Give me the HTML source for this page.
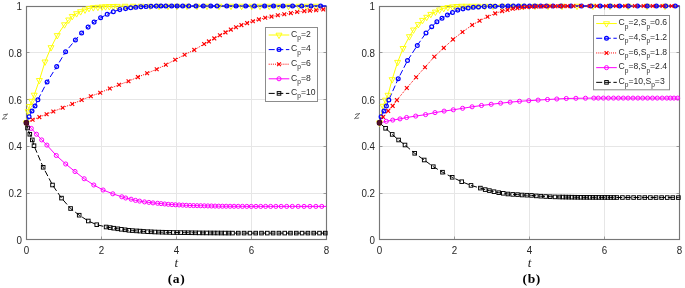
<!DOCTYPE html>
<html><head><meta charset="utf-8"><style>
html,body{margin:0;padding:0;background:#fff;}
body{width:685px;height:288px;overflow:hidden;}
svg{display:block;will-change:transform;}
.tk{font-family:"Liberation Sans",sans-serif;font-size:9.8px;fill:#262626;}
.lg{font-family:"Liberation Sans",sans-serif;font-size:8.6px;fill:#2a2a2a;}
.sub{font-size:6.6px;}
.ax{font-family:"Liberation Serif",serif;font-style:italic;font-size:13px;fill:#262626;}
.pl{font-family:"Liberation Serif",serif;font-weight:bold;font-size:13.5px;letter-spacing:0.7px;fill:#000;}
</style></head><body>
<svg width="685" height="288" viewBox="0 0 685 288">
<rect width="685" height="288" fill="#fff"/>
<line x1="101.5" y1="6.5" x2="101.5" y2="239.5" stroke="#e6e6e6" stroke-width="1"/>
<line x1="176.5" y1="6.5" x2="176.5" y2="239.5" stroke="#e6e6e6" stroke-width="1"/>
<line x1="251.5" y1="6.5" x2="251.5" y2="239.5" stroke="#e6e6e6" stroke-width="1"/>
<line x1="26.5" y1="193.5" x2="326.5" y2="193.5" stroke="#e6e6e6" stroke-width="1"/>
<line x1="26.5" y1="146.5" x2="326.5" y2="146.5" stroke="#e6e6e6" stroke-width="1"/>
<line x1="26.5" y1="99.5" x2="326.5" y2="99.5" stroke="#e6e6e6" stroke-width="1"/>
<line x1="26.5" y1="52.5" x2="326.5" y2="52.5" stroke="#e6e6e6" stroke-width="1"/>
<line x1="26.5" y1="239.5" x2="26.5" y2="236.5" stroke="#858585" stroke-width="0.8"/>
<line x1="26.5" y1="6.5" x2="26.5" y2="9.5" stroke="#858585" stroke-width="0.8"/>
<line x1="101.5" y1="239.5" x2="101.5" y2="236.5" stroke="#858585" stroke-width="0.8"/>
<line x1="101.5" y1="6.5" x2="101.5" y2="9.5" stroke="#858585" stroke-width="0.8"/>
<line x1="176.5" y1="239.5" x2="176.5" y2="236.5" stroke="#858585" stroke-width="0.8"/>
<line x1="176.5" y1="6.5" x2="176.5" y2="9.5" stroke="#858585" stroke-width="0.8"/>
<line x1="251.5" y1="239.5" x2="251.5" y2="236.5" stroke="#858585" stroke-width="0.8"/>
<line x1="251.5" y1="6.5" x2="251.5" y2="9.5" stroke="#858585" stroke-width="0.8"/>
<line x1="326.5" y1="239.5" x2="326.5" y2="236.5" stroke="#858585" stroke-width="0.8"/>
<line x1="326.5" y1="6.5" x2="326.5" y2="9.5" stroke="#858585" stroke-width="0.8"/>
<line x1="26.5" y1="239.5" x2="29.5" y2="239.5" stroke="#858585" stroke-width="0.8"/>
<line x1="326.5" y1="239.5" x2="323.5" y2="239.5" stroke="#858585" stroke-width="0.8"/>
<line x1="26.5" y1="193.5" x2="29.5" y2="193.5" stroke="#858585" stroke-width="0.8"/>
<line x1="326.5" y1="193.5" x2="323.5" y2="193.5" stroke="#858585" stroke-width="0.8"/>
<line x1="26.5" y1="146.5" x2="29.5" y2="146.5" stroke="#858585" stroke-width="0.8"/>
<line x1="326.5" y1="146.5" x2="323.5" y2="146.5" stroke="#858585" stroke-width="0.8"/>
<line x1="26.5" y1="99.5" x2="29.5" y2="99.5" stroke="#858585" stroke-width="0.8"/>
<line x1="326.5" y1="99.5" x2="323.5" y2="99.5" stroke="#858585" stroke-width="0.8"/>
<line x1="26.5" y1="52.5" x2="29.5" y2="52.5" stroke="#858585" stroke-width="0.8"/>
<line x1="326.5" y1="52.5" x2="323.5" y2="52.5" stroke="#858585" stroke-width="0.8"/>
<line x1="26.5" y1="6.5" x2="29.5" y2="6.5" stroke="#858585" stroke-width="0.8"/>
<line x1="326.5" y1="6.5" x2="323.5" y2="6.5" stroke="#858585" stroke-width="0.8"/>
<line x1="454.5" y1="6.5" x2="454.5" y2="239.5" stroke="#e6e6e6" stroke-width="1"/>
<line x1="529.5" y1="6.5" x2="529.5" y2="239.5" stroke="#e6e6e6" stroke-width="1"/>
<line x1="604.5" y1="6.5" x2="604.5" y2="239.5" stroke="#e6e6e6" stroke-width="1"/>
<line x1="379.5" y1="193.5" x2="679.5" y2="193.5" stroke="#e6e6e6" stroke-width="1"/>
<line x1="379.5" y1="146.5" x2="679.5" y2="146.5" stroke="#e6e6e6" stroke-width="1"/>
<line x1="379.5" y1="99.5" x2="679.5" y2="99.5" stroke="#e6e6e6" stroke-width="1"/>
<line x1="379.5" y1="52.5" x2="679.5" y2="52.5" stroke="#e6e6e6" stroke-width="1"/>
<line x1="379.5" y1="239.5" x2="379.5" y2="236.5" stroke="#858585" stroke-width="0.8"/>
<line x1="379.5" y1="6.5" x2="379.5" y2="9.5" stroke="#858585" stroke-width="0.8"/>
<line x1="454.5" y1="239.5" x2="454.5" y2="236.5" stroke="#858585" stroke-width="0.8"/>
<line x1="454.5" y1="6.5" x2="454.5" y2="9.5" stroke="#858585" stroke-width="0.8"/>
<line x1="529.5" y1="239.5" x2="529.5" y2="236.5" stroke="#858585" stroke-width="0.8"/>
<line x1="529.5" y1="6.5" x2="529.5" y2="9.5" stroke="#858585" stroke-width="0.8"/>
<line x1="604.5" y1="239.5" x2="604.5" y2="236.5" stroke="#858585" stroke-width="0.8"/>
<line x1="604.5" y1="6.5" x2="604.5" y2="9.5" stroke="#858585" stroke-width="0.8"/>
<line x1="679.5" y1="239.5" x2="679.5" y2="236.5" stroke="#858585" stroke-width="0.8"/>
<line x1="679.5" y1="6.5" x2="679.5" y2="9.5" stroke="#858585" stroke-width="0.8"/>
<line x1="379.5" y1="239.5" x2="382.5" y2="239.5" stroke="#858585" stroke-width="0.8"/>
<line x1="679.5" y1="239.5" x2="676.5" y2="239.5" stroke="#858585" stroke-width="0.8"/>
<line x1="379.5" y1="193.5" x2="382.5" y2="193.5" stroke="#858585" stroke-width="0.8"/>
<line x1="679.5" y1="193.5" x2="676.5" y2="193.5" stroke="#858585" stroke-width="0.8"/>
<line x1="379.5" y1="146.5" x2="382.5" y2="146.5" stroke="#858585" stroke-width="0.8"/>
<line x1="679.5" y1="146.5" x2="676.5" y2="146.5" stroke="#858585" stroke-width="0.8"/>
<line x1="379.5" y1="99.5" x2="382.5" y2="99.5" stroke="#858585" stroke-width="0.8"/>
<line x1="679.5" y1="99.5" x2="676.5" y2="99.5" stroke="#858585" stroke-width="0.8"/>
<line x1="379.5" y1="52.5" x2="382.5" y2="52.5" stroke="#858585" stroke-width="0.8"/>
<line x1="679.5" y1="52.5" x2="676.5" y2="52.5" stroke="#858585" stroke-width="0.8"/>
<line x1="379.5" y1="6.5" x2="382.5" y2="6.5" stroke="#858585" stroke-width="0.8"/>
<line x1="679.5" y1="6.5" x2="676.5" y2="6.5" stroke="#858585" stroke-width="0.8"/>
<rect x="26.5" y="6.5" width="300.0" height="233.0" fill="none" stroke="#777777" stroke-width="1.15"/>
<rect x="379.5" y="6.5" width="300.0" height="233.0" fill="none" stroke="#777777" stroke-width="1.15"/>
<path d="M26.40,122.80 L28.10,111.50 L29.60,106.30 L31.90,101.10 L34.20,95.00 L39.35,80.30 L45.00,61.80 L51.00,47.50 L57.25,35.40 L64.50,24.60 L68.70,19.80 L72.25,16.25 L76.60,13.50 L80.60,11.50 L85.00,9.80 L89.00,8.30 L93.30,7.50 L97.90,7.10 L102.00,6.80 L105.50,6.60 L109.30,6.45 L113.20,6.30 L117.20,6.20 L125.00,6.05 L133.00,6.05 L141.00,6.05 L150.00,6.05 L159.00,6.05 L168.00,6.05 L177.00,6.05 L187.00,6.05 L197.00,6.05 L207.00,6.05 L219.00,6.05 L231.00,6.05 L241.60,6.05 L251.80,6.05 L260.00,6.05 L269.20,6.05 L278.30,6.05 L288.50,6.05 L298.90,6.05 L306.80,6.05 L316.00,6.05 L326.40,6.05" fill="none" stroke="#ffff00" stroke-width="1"/>
<path d="M26.40,122.80 L29.10,116.80 L32.00,110.90 L35.00,105.90 L37.90,99.80 L47.10,81.90 L56.70,66.60 L65.60,51.70 L75.40,40.00 L81.60,32.90 L88.10,27.10 L94.10,22.10 L100.60,17.80 L107.20,14.30 L113.30,11.70 L119.80,9.60 L125.60,8.60 L130.70,7.80 L135.80,7.20 L140.90,6.70 L146.00,6.40 L151.00,6.20 L156.30,6.10 L161.00,6.05 L165.80,6.00 L171.70,6.00 L177.10,6.00 L182.70,6.00 L188.80,6.00 L196.00,6.00 L203.30,6.00 L210.80,6.00 L217.00,6.00 L226.75,6.00 L236.00,6.00 L245.70,6.00 L254.50,6.00 L264.60,6.00 L273.50,6.00 L283.00,6.00 L292.60,6.00 L301.70,6.00 L311.00,6.00 L320.60,6.00 L326.40,6.00" fill="none" stroke="#0000ff" stroke-width="1" stroke-dasharray="6 2.6"/>
<path d="M151.00,6.20 L156.30,6.10 L161.00,6.05 L165.80,6.00 L171.70,6.00 L177.10,6.00 L182.70,6.00 L188.80,6.00 L196.00,6.00 L203.30,6.00 L210.80,6.00 L217.00,6.00 L226.75,6.00 L236.00,6.00 L245.70,6.00 L254.50,6.00 L264.60,6.00 L273.50,6.00 L283.00,6.00 L292.60,6.00 L301.70,6.00 L311.00,6.00 L320.60,6.00 L326.40,6.00" fill="none" stroke="#0000ff" stroke-width="1"/>
<path d="M26.40,122.80 L32.60,119.80 L39.35,117.10 L46.60,114.20 L53.30,111.50 L62.70,107.70 L72.30,104.00 L81.70,100.00 L90.80,96.25 L100.20,92.70 L109.80,88.50 L119.00,84.80 L128.50,81.25 L137.90,77.10 L147.10,73.30 L156.70,69.20 L165.80,64.80 L175.20,59.70 L184.60,54.70 L194.30,49.90 L204.10,44.00 L208.90,41.40 L214.30,38.40 L219.90,35.30 L225.50,32.40 L230.80,29.60 L236.00,27.20 L241.40,25.10 L247.10,23.10 L252.90,21.20 L258.90,19.40 L265.20,17.80 L271.50,16.60 L277.80,15.30 L284.30,14.20 L290.80,13.10 L297.20,12.00 L304.30,11.10 L310.00,10.60 L316.20,10.20 L323.30,9.40 L326.40,9.10" fill="none" stroke="#ff0000" stroke-width="1" stroke-dasharray="1 1.1"/>
<path d="M26.40,122.80 L31.30,128.40 L36.50,134.25 L41.70,139.90 L46.90,145.10 L56.30,155.50 L65.70,164.00 L75.00,171.50 L84.20,178.75 L93.80,185.00 L103.10,190.00 L112.80,193.80 L121.80,196.80 L125.70,198.00 L131.10,199.20 L135.50,200.40 L139.60,201.10 L144.50,201.90 L148.90,202.40 L153.00,202.90 L157.60,203.30 L161.10,203.64 L164.70,203.99 L168.30,204.34 L171.90,204.59 L175.50,204.78 L179.10,204.95 L182.70,205.13 L186.30,205.31 L189.90,205.50 L193.50,205.58 L197.10,205.67 L200.70,205.75 L204.30,205.83 L207.90,205.92 L211.50,206.00 L215.10,206.09 L218.70,206.17 L222.38,206.22 L226.16,206.24 L230.06,206.27 L234.07,206.29 L238.20,206.32 L242.44,206.35 L246.81,206.38 L251.31,206.40 L255.94,206.40 L260.70,206.40 L265.60,206.40 L270.64,206.40 L275.84,206.40 L281.18,206.40 L286.68,206.40 L292.33,206.40 L298.16,206.40 L304.06,206.40 L309.96,206.40 L315.86,206.40 L321.76,206.40 L326.40,206.40" fill="none" stroke="#ff00ff" stroke-width="1"/>
<path d="M26.40,122.80 L27.50,128.00 L29.80,134.25 L32.30,139.90 L34.00,145.70 L43.20,167.30 L52.50,185.00 L61.50,198.10 L70.60,208.50 L79.20,215.20 L88.30,221.00 L96.75,224.70 L106.10,227.00 L110.20,227.60 L113.70,228.20 L117.80,228.80 L121.30,229.30 L125.10,229.80 L128.90,230.30 L132.40,230.60 L136.50,230.90 L140.00,231.10 L143.50,231.40 L147.60,231.70 L151.10,231.80 L154.80,232.00 L158.70,232.10 L162.20,232.20 L166.00,232.30 L169.80,232.40 L173.30,232.50 L177.00,232.56 L180.70,232.61 L184.40,232.67 L188.10,232.72 L191.80,232.78 L195.50,232.83 L199.20,232.89 L202.90,232.92 L206.60,232.94 L210.30,232.96 L214.00,232.98 L217.70,233.00 L221.40,233.03 L225.10,233.05 L228.80,233.07 L232.50,233.09 L238.30,233.10 L244.10,233.10 L249.90,233.10 L255.70,233.10 L261.50,233.10 L267.30,233.10 L273.10,233.10 L278.90,233.10 L284.70,233.10 L290.50,233.10 L296.30,233.10 L302.10,233.10 L307.90,233.10 L313.70,233.10 L319.50,233.10 L325.30,233.10 L326.40,233.10" fill="none" stroke="#000000" stroke-width="1" stroke-dasharray="6 2.6"/>
<path d="M379.60,122.80 L383.10,106.10 L385.50,100.00 L388.00,95.10 L392.10,79.50 L397.60,62.20 L403.10,48.30 L409.40,36.50 L413.50,29.80 L418.30,24.40 L422.50,20.20 L426.70,17.10 L430.80,14.20 L435.40,11.90 L439.60,9.80 L443.75,8.30 L447.90,7.30 L452.50,6.70 L456.90,6.30 L461.50,6.05 L466.50,6.05 L472.00,6.05 L478.00,6.05 L485.00,6.05 L493.00,6.05 L502.00,6.05 L512.00,6.05 L523.00,6.05 L535.00,6.05 L548.00,6.05 L562.00,6.05 L577.00,6.05 L593.00,6.05 L610.00,6.05 L628.00,6.05 L647.00,6.05 L665.00,6.05 L679.60,6.05" fill="none" stroke="#ffff00" stroke-width="1"/>
<path d="M379.60,122.80 L381.10,116.80 L384.00,110.90 L386.40,105.90 L388.80,99.90 L398.20,78.80 L407.50,60.60 L417.30,45.40 L426.00,32.90 L431.70,26.70 L436.90,21.70 L442.00,18.20 L447.40,15.00 L452.50,12.50 L457.80,10.10 L463.00,8.85 L468.20,7.90 L473.30,7.30 L478.50,6.90 L484.30,6.60 L490.20,6.30 L495.20,6.20 L502.20,6.10 L508.00,6.05 L513.30,6.00 L518.50,6.00 L524.20,6.00 L529.60,6.00 L534.90,6.00 L540.70,6.00 L546.50,6.00 L553.00,6.00 L561.10,6.00 L571.00,6.00 L581.50,6.00 L590.90,6.00 L600.20,6.00 L610.20,6.00 L619.60,6.00 L628.30,6.00 L637.50,6.00 L647.20,6.00 L656.40,6.00 L665.60,6.00 L675.30,6.00 L679.60,6.00" fill="none" stroke="#0000ff" stroke-width="1" stroke-dasharray="6 2.6"/>
<path d="M490.20,6.30 L495.20,6.20 L502.20,6.10 L508.00,6.05 L513.30,6.00 L518.50,6.00 L524.20,6.00 L529.60,6.00 L534.90,6.00 L540.70,6.00 L546.50,6.00 L553.00,6.00 L561.10,6.00 L571.00,6.00 L581.50,6.00 L590.90,6.00 L600.20,6.00 L610.20,6.00 L619.60,6.00 L628.30,6.00 L637.50,6.00 L647.20,6.00 L656.40,6.00 L665.60,6.00 L675.30,6.00 L679.60,6.00" fill="none" stroke="#0000ff" stroke-width="1"/>
<path d="M379.60,122.80 L383.20,117.00 L388.20,110.90 L392.70,105.90 L396.90,100.10 L406.80,88.00 L416.10,77.20 L425.00,67.20 L434.30,56.80 L443.75,47.90 L453.00,39.40 L462.50,32.00 L472.20,25.00 L479.60,20.80 L487.50,16.70 L495.20,13.40 L502.20,11.10 L507.50,9.90 L512.70,8.80 L517.40,8.10 L522.10,7.40 L526.70,7.00 L531.40,6.70 L536.10,6.50 L540.70,6.40 L545.40,6.30 L550.10,6.25 L555.00,6.20 L559.50,6.15 L563.50,6.10 L567.50,6.10 L573.40,6.05 L581.00,6.00 L589.70,6.00 L596.70,6.00 L606.10,6.00 L616.00,6.00 L625.20,6.00 L634.90,6.00 L643.60,6.00 L652.80,6.00 L662.50,6.00 L671.70,6.00 L679.60,6.00" fill="none" stroke="#ff0000" stroke-width="1" stroke-dasharray="1 1.1"/>
<path d="M379.60,122.80 L386.30,121.30 L392.70,120.10 L400.00,118.90 L406.60,117.50 L415.70,116.10 L425.60,114.60 L435.00,112.60 L444.10,111.10 L453.30,109.80 L462.60,108.30 L472.10,106.80 L481.50,105.50 L491.20,104.30 L500.60,103.20 L510.10,102.20 L519.50,101.30 L528.80,100.70 L538.10,100.10 L547.50,99.50 L556.80,99.00 L566.30,98.50 L575.90,98.30 L585.50,98.20 L593.80,98.10 L598.30,98.10 L603.40,98.10 L608.40,98.10 L613.50,98.10 L618.40,98.10 L623.30,98.10 L628.10,98.10 L633.00,98.10 L637.90,98.10 L642.70,98.10 L647.60,98.10 L652.50,98.10 L657.30,98.10 L662.20,98.10 L666.80,98.10 L670.40,98.10 L674.00,98.10 L677.70,98.10 L679.60,98.10" fill="none" stroke="#ff00ff" stroke-width="1"/>
<path d="M379.60,122.80 L385.60,128.30 L392.20,134.40 L398.60,140.00 L405.00,145.00 L414.70,153.30 L424.20,160.00 L433.30,166.70 L442.50,172.20 L452.20,177.30 L461.70,181.70 L471.00,185.40 L480.40,188.10 L485.20,189.60 L489.40,190.60 L494.00,191.70 L498.75,192.70 L503.30,193.30 L507.90,194.00 L512.70,194.40 L517.50,194.60 L522.10,195.00 L526.90,195.20 L531.50,195.40 L536.25,195.90 L540.80,196.20 L545.60,196.50 L550.20,196.70 L555.00,196.90 L559.60,197.00 L562.80,197.05 L565.80,197.09 L568.80,197.14 L571.80,197.18 L574.80,197.22 L577.80,197.27 L580.80,197.30 L583.80,197.32 L586.80,197.34 L589.80,197.35 L592.80,197.37 L595.80,197.39 L598.80,197.40 L601.80,197.42 L604.80,197.44 L607.80,197.45 L610.80,197.47 L613.80,197.49 L616.80,197.50 L622.40,197.51 L628.00,197.52 L633.60,197.53 L639.20,197.54 L644.80,197.55 L650.40,197.55 L656.00,197.56 L661.60,197.57 L667.20,197.58 L672.80,197.59 L678.40,197.60 L679.60,197.60" fill="none" stroke="#000000" stroke-width="1" stroke-dasharray="6 2.6"/>
<polygon points="23.40,121.00 29.40,121.00 26.40,126.40" fill="none" stroke="#ffff00" stroke-width="0.9"/>
<polygon points="25.10,109.70 31.10,109.70 28.10,115.10" fill="none" stroke="#ffff00" stroke-width="0.9"/>
<polygon points="26.60,104.50 32.60,104.50 29.60,109.90" fill="none" stroke="#ffff00" stroke-width="0.9"/>
<polygon points="28.90,99.30 34.90,99.30 31.90,104.70" fill="none" stroke="#ffff00" stroke-width="0.9"/>
<polygon points="31.20,93.20 37.20,93.20 34.20,98.60" fill="none" stroke="#ffff00" stroke-width="0.9"/>
<polygon points="36.35,78.50 42.35,78.50 39.35,83.90" fill="none" stroke="#ffff00" stroke-width="0.9"/>
<polygon points="42.00,60.00 48.00,60.00 45.00,65.40" fill="none" stroke="#ffff00" stroke-width="0.9"/>
<polygon points="48.00,45.70 54.00,45.70 51.00,51.10" fill="none" stroke="#ffff00" stroke-width="0.9"/>
<polygon points="54.25,33.60 60.25,33.60 57.25,39.00" fill="none" stroke="#ffff00" stroke-width="0.9"/>
<polygon points="61.50,22.80 67.50,22.80 64.50,28.20" fill="none" stroke="#ffff00" stroke-width="0.9"/>
<polygon points="65.70,18.00 71.70,18.00 68.70,23.40" fill="none" stroke="#ffff00" stroke-width="0.9"/>
<polygon points="69.25,14.45 75.25,14.45 72.25,19.85" fill="none" stroke="#ffff00" stroke-width="0.9"/>
<polygon points="73.60,11.70 79.60,11.70 76.60,17.10" fill="none" stroke="#ffff00" stroke-width="0.9"/>
<polygon points="77.60,9.70 83.60,9.70 80.60,15.10" fill="none" stroke="#ffff00" stroke-width="0.9"/>
<polygon points="82.00,8.00 88.00,8.00 85.00,13.40" fill="none" stroke="#ffff00" stroke-width="0.9"/>
<polygon points="86.00,6.50 92.00,6.50 89.00,11.90" fill="none" stroke="#ffff00" stroke-width="0.9"/>
<polygon points="90.30,5.70 96.30,5.70 93.30,11.10" fill="none" stroke="#ffff00" stroke-width="0.9"/>
<polygon points="94.90,5.30 100.90,5.30 97.90,10.70" fill="none" stroke="#ffff00" stroke-width="0.9"/>
<polygon points="99.00,5.00 105.00,5.00 102.00,10.40" fill="none" stroke="#ffff00" stroke-width="0.9"/>
<polygon points="102.50,4.80 108.50,4.80 105.50,10.20" fill="none" stroke="#ffff00" stroke-width="0.9"/>
<polygon points="106.30,4.65 112.30,4.65 109.30,10.05" fill="none" stroke="#ffff00" stroke-width="0.9"/>
<polygon points="110.20,4.50 116.20,4.50 113.20,9.90" fill="none" stroke="#ffff00" stroke-width="0.9"/>
<polygon points="114.20,4.40 120.20,4.40 117.20,9.80" fill="none" stroke="#ffff00" stroke-width="0.9"/>
<polygon points="122.00,4.25 128.00,4.25 125.00,9.65" fill="none" stroke="#ffff00" stroke-width="0.9"/>
<polygon points="130.00,4.25 136.00,4.25 133.00,9.65" fill="none" stroke="#ffff00" stroke-width="0.9"/>
<polygon points="138.00,4.25 144.00,4.25 141.00,9.65" fill="none" stroke="#ffff00" stroke-width="0.9"/>
<polygon points="147.00,4.25 153.00,4.25 150.00,9.65" fill="none" stroke="#ffff00" stroke-width="0.9"/>
<polygon points="156.00,4.25 162.00,4.25 159.00,9.65" fill="none" stroke="#ffff00" stroke-width="0.9"/>
<polygon points="165.00,4.25 171.00,4.25 168.00,9.65" fill="none" stroke="#ffff00" stroke-width="0.9"/>
<polygon points="174.00,4.25 180.00,4.25 177.00,9.65" fill="none" stroke="#ffff00" stroke-width="0.9"/>
<polygon points="184.00,4.25 190.00,4.25 187.00,9.65" fill="none" stroke="#ffff00" stroke-width="0.9"/>
<polygon points="194.00,4.25 200.00,4.25 197.00,9.65" fill="none" stroke="#ffff00" stroke-width="0.9"/>
<polygon points="204.00,4.25 210.00,4.25 207.00,9.65" fill="none" stroke="#ffff00" stroke-width="0.9"/>
<polygon points="216.00,4.25 222.00,4.25 219.00,9.65" fill="none" stroke="#ffff00" stroke-width="0.9"/>
<polygon points="228.00,4.25 234.00,4.25 231.00,9.65" fill="none" stroke="#ffff00" stroke-width="0.9"/>
<polygon points="238.60,4.25 244.60,4.25 241.60,9.65" fill="none" stroke="#ffff00" stroke-width="0.9"/>
<polygon points="248.80,4.25 254.80,4.25 251.80,9.65" fill="none" stroke="#ffff00" stroke-width="0.9"/>
<polygon points="257.00,4.25 263.00,4.25 260.00,9.65" fill="none" stroke="#ffff00" stroke-width="0.9"/>
<polygon points="266.20,4.25 272.20,4.25 269.20,9.65" fill="none" stroke="#ffff00" stroke-width="0.9"/>
<polygon points="275.30,4.25 281.30,4.25 278.30,9.65" fill="none" stroke="#ffff00" stroke-width="0.9"/>
<polygon points="285.50,4.25 291.50,4.25 288.50,9.65" fill="none" stroke="#ffff00" stroke-width="0.9"/>
<polygon points="295.90,4.25 301.90,4.25 298.90,9.65" fill="none" stroke="#ffff00" stroke-width="0.9"/>
<polygon points="303.80,4.25 309.80,4.25 306.80,9.65" fill="none" stroke="#ffff00" stroke-width="0.9"/>
<polygon points="313.00,4.25 319.00,4.25 316.00,9.65" fill="none" stroke="#ffff00" stroke-width="0.9"/>
<circle cx="26.40" cy="122.80" r="1.9" fill="none" stroke="#0000ff" stroke-width="1.25"/>
<circle cx="29.10" cy="116.80" r="1.9" fill="none" stroke="#0000ff" stroke-width="1.25"/>
<circle cx="32.00" cy="110.90" r="1.9" fill="none" stroke="#0000ff" stroke-width="1.25"/>
<circle cx="35.00" cy="105.90" r="1.9" fill="none" stroke="#0000ff" stroke-width="1.25"/>
<circle cx="37.90" cy="99.80" r="1.9" fill="none" stroke="#0000ff" stroke-width="1.25"/>
<circle cx="47.10" cy="81.90" r="1.9" fill="none" stroke="#0000ff" stroke-width="1.25"/>
<circle cx="56.70" cy="66.60" r="1.9" fill="none" stroke="#0000ff" stroke-width="1.25"/>
<circle cx="65.60" cy="51.70" r="1.9" fill="none" stroke="#0000ff" stroke-width="1.25"/>
<circle cx="75.40" cy="40.00" r="1.9" fill="none" stroke="#0000ff" stroke-width="1.25"/>
<circle cx="81.60" cy="32.90" r="1.9" fill="none" stroke="#0000ff" stroke-width="1.25"/>
<circle cx="88.10" cy="27.10" r="1.9" fill="none" stroke="#0000ff" stroke-width="1.25"/>
<circle cx="94.10" cy="22.10" r="1.9" fill="none" stroke="#0000ff" stroke-width="1.25"/>
<circle cx="100.60" cy="17.80" r="1.9" fill="none" stroke="#0000ff" stroke-width="1.25"/>
<circle cx="107.20" cy="14.30" r="1.9" fill="none" stroke="#0000ff" stroke-width="1.25"/>
<circle cx="113.30" cy="11.70" r="1.9" fill="none" stroke="#0000ff" stroke-width="1.25"/>
<circle cx="119.80" cy="9.60" r="1.9" fill="none" stroke="#0000ff" stroke-width="1.25"/>
<circle cx="125.60" cy="8.60" r="1.9" fill="none" stroke="#0000ff" stroke-width="1.25"/>
<circle cx="130.70" cy="7.80" r="1.9" fill="none" stroke="#0000ff" stroke-width="1.25"/>
<circle cx="135.80" cy="7.20" r="1.9" fill="none" stroke="#0000ff" stroke-width="1.25"/>
<circle cx="140.90" cy="6.70" r="1.9" fill="none" stroke="#0000ff" stroke-width="1.25"/>
<circle cx="146.00" cy="6.40" r="1.9" fill="none" stroke="#0000ff" stroke-width="1.25"/>
<circle cx="151.00" cy="6.20" r="1.9" fill="none" stroke="#0000ff" stroke-width="1.25"/>
<circle cx="156.30" cy="6.10" r="1.9" fill="none" stroke="#0000ff" stroke-width="1.25"/>
<circle cx="161.00" cy="6.05" r="1.9" fill="none" stroke="#0000ff" stroke-width="1.25"/>
<circle cx="165.80" cy="6.00" r="1.9" fill="none" stroke="#0000ff" stroke-width="1.25"/>
<circle cx="171.70" cy="6.00" r="1.9" fill="none" stroke="#0000ff" stroke-width="1.25"/>
<circle cx="177.10" cy="6.00" r="1.9" fill="none" stroke="#0000ff" stroke-width="1.25"/>
<circle cx="182.70" cy="6.00" r="1.9" fill="none" stroke="#0000ff" stroke-width="1.25"/>
<circle cx="188.80" cy="6.00" r="1.9" fill="none" stroke="#0000ff" stroke-width="1.25"/>
<circle cx="196.00" cy="6.00" r="1.9" fill="none" stroke="#0000ff" stroke-width="1.25"/>
<circle cx="203.30" cy="6.00" r="1.9" fill="none" stroke="#0000ff" stroke-width="1.25"/>
<circle cx="210.80" cy="6.00" r="1.9" fill="none" stroke="#0000ff" stroke-width="1.25"/>
<circle cx="217.00" cy="6.00" r="1.9" fill="none" stroke="#0000ff" stroke-width="1.25"/>
<circle cx="226.75" cy="6.00" r="1.9" fill="none" stroke="#0000ff" stroke-width="1.25"/>
<circle cx="236.00" cy="6.00" r="1.9" fill="none" stroke="#0000ff" stroke-width="1.25"/>
<circle cx="245.70" cy="6.00" r="1.9" fill="none" stroke="#0000ff" stroke-width="1.25"/>
<circle cx="254.50" cy="6.00" r="1.9" fill="none" stroke="#0000ff" stroke-width="1.25"/>
<circle cx="264.60" cy="6.00" r="1.9" fill="none" stroke="#0000ff" stroke-width="1.25"/>
<circle cx="273.50" cy="6.00" r="1.9" fill="none" stroke="#0000ff" stroke-width="1.25"/>
<circle cx="283.00" cy="6.00" r="1.9" fill="none" stroke="#0000ff" stroke-width="1.25"/>
<circle cx="292.60" cy="6.00" r="1.9" fill="none" stroke="#0000ff" stroke-width="1.25"/>
<circle cx="301.70" cy="6.00" r="1.9" fill="none" stroke="#0000ff" stroke-width="1.25"/>
<circle cx="311.00" cy="6.00" r="1.9" fill="none" stroke="#0000ff" stroke-width="1.25"/>
<circle cx="320.60" cy="6.00" r="1.9" fill="none" stroke="#0000ff" stroke-width="1.25"/>
<path d="M24.50,120.90 L28.30,124.70 M24.50,124.70 L28.30,120.90" stroke="#ff0000" stroke-width="1.15" fill="none"/>
<path d="M30.70,117.90 L34.50,121.70 M30.70,121.70 L34.50,117.90" stroke="#ff0000" stroke-width="1.15" fill="none"/>
<path d="M37.45,115.20 L41.25,119.00 M37.45,119.00 L41.25,115.20" stroke="#ff0000" stroke-width="1.15" fill="none"/>
<path d="M44.70,112.30 L48.50,116.10 M44.70,116.10 L48.50,112.30" stroke="#ff0000" stroke-width="1.15" fill="none"/>
<path d="M51.40,109.60 L55.20,113.40 M51.40,113.40 L55.20,109.60" stroke="#ff0000" stroke-width="1.15" fill="none"/>
<path d="M60.80,105.80 L64.60,109.60 M60.80,109.60 L64.60,105.80" stroke="#ff0000" stroke-width="1.15" fill="none"/>
<path d="M70.40,102.10 L74.20,105.90 M70.40,105.90 L74.20,102.10" stroke="#ff0000" stroke-width="1.15" fill="none"/>
<path d="M79.80,98.10 L83.60,101.90 M79.80,101.90 L83.60,98.10" stroke="#ff0000" stroke-width="1.15" fill="none"/>
<path d="M88.90,94.35 L92.70,98.15 M88.90,98.15 L92.70,94.35" stroke="#ff0000" stroke-width="1.15" fill="none"/>
<path d="M98.30,90.80 L102.10,94.60 M98.30,94.60 L102.10,90.80" stroke="#ff0000" stroke-width="1.15" fill="none"/>
<path d="M107.90,86.60 L111.70,90.40 M107.90,90.40 L111.70,86.60" stroke="#ff0000" stroke-width="1.15" fill="none"/>
<path d="M117.10,82.90 L120.90,86.70 M117.10,86.70 L120.90,82.90" stroke="#ff0000" stroke-width="1.15" fill="none"/>
<path d="M126.60,79.35 L130.40,83.15 M126.60,83.15 L130.40,79.35" stroke="#ff0000" stroke-width="1.15" fill="none"/>
<path d="M136.00,75.20 L139.80,79.00 M136.00,79.00 L139.80,75.20" stroke="#ff0000" stroke-width="1.15" fill="none"/>
<path d="M145.20,71.40 L149.00,75.20 M145.20,75.20 L149.00,71.40" stroke="#ff0000" stroke-width="1.15" fill="none"/>
<path d="M154.80,67.30 L158.60,71.10 M154.80,71.10 L158.60,67.30" stroke="#ff0000" stroke-width="1.15" fill="none"/>
<path d="M163.90,62.90 L167.70,66.70 M163.90,66.70 L167.70,62.90" stroke="#ff0000" stroke-width="1.15" fill="none"/>
<path d="M173.30,57.80 L177.10,61.60 M173.30,61.60 L177.10,57.80" stroke="#ff0000" stroke-width="1.15" fill="none"/>
<path d="M182.70,52.80 L186.50,56.60 M182.70,56.60 L186.50,52.80" stroke="#ff0000" stroke-width="1.15" fill="none"/>
<path d="M192.40,48.00 L196.20,51.80 M192.40,51.80 L196.20,48.00" stroke="#ff0000" stroke-width="1.15" fill="none"/>
<path d="M202.20,42.10 L206.00,45.90 M202.20,45.90 L206.00,42.10" stroke="#ff0000" stroke-width="1.15" fill="none"/>
<path d="M207.00,39.50 L210.80,43.30 M207.00,43.30 L210.80,39.50" stroke="#ff0000" stroke-width="1.15" fill="none"/>
<path d="M212.40,36.50 L216.20,40.30 M212.40,40.30 L216.20,36.50" stroke="#ff0000" stroke-width="1.15" fill="none"/>
<path d="M218.00,33.40 L221.80,37.20 M218.00,37.20 L221.80,33.40" stroke="#ff0000" stroke-width="1.15" fill="none"/>
<path d="M223.60,30.50 L227.40,34.30 M223.60,34.30 L227.40,30.50" stroke="#ff0000" stroke-width="1.15" fill="none"/>
<path d="M228.90,27.70 L232.70,31.50 M228.90,31.50 L232.70,27.70" stroke="#ff0000" stroke-width="1.15" fill="none"/>
<path d="M234.10,25.30 L237.90,29.10 M234.10,29.10 L237.90,25.30" stroke="#ff0000" stroke-width="1.15" fill="none"/>
<path d="M239.50,23.20 L243.30,27.00 M239.50,27.00 L243.30,23.20" stroke="#ff0000" stroke-width="1.15" fill="none"/>
<path d="M245.20,21.20 L249.00,25.00 M245.20,25.00 L249.00,21.20" stroke="#ff0000" stroke-width="1.15" fill="none"/>
<path d="M251.00,19.30 L254.80,23.10 M251.00,23.10 L254.80,19.30" stroke="#ff0000" stroke-width="1.15" fill="none"/>
<path d="M257.00,17.50 L260.80,21.30 M257.00,21.30 L260.80,17.50" stroke="#ff0000" stroke-width="1.15" fill="none"/>
<path d="M263.30,15.90 L267.10,19.70 M263.30,19.70 L267.10,15.90" stroke="#ff0000" stroke-width="1.15" fill="none"/>
<path d="M269.60,14.70 L273.40,18.50 M269.60,18.50 L273.40,14.70" stroke="#ff0000" stroke-width="1.15" fill="none"/>
<path d="M275.90,13.40 L279.70,17.20 M275.90,17.20 L279.70,13.40" stroke="#ff0000" stroke-width="1.15" fill="none"/>
<path d="M282.40,12.30 L286.20,16.10 M282.40,16.10 L286.20,12.30" stroke="#ff0000" stroke-width="1.15" fill="none"/>
<path d="M288.90,11.20 L292.70,15.00 M288.90,15.00 L292.70,11.20" stroke="#ff0000" stroke-width="1.15" fill="none"/>
<path d="M295.30,10.10 L299.10,13.90 M295.30,13.90 L299.10,10.10" stroke="#ff0000" stroke-width="1.15" fill="none"/>
<path d="M302.40,9.20 L306.20,13.00 M302.40,13.00 L306.20,9.20" stroke="#ff0000" stroke-width="1.15" fill="none"/>
<path d="M308.10,8.70 L311.90,12.50 M308.10,12.50 L311.90,8.70" stroke="#ff0000" stroke-width="1.15" fill="none"/>
<path d="M314.30,8.30 L318.10,12.10 M314.30,12.10 L318.10,8.30" stroke="#ff0000" stroke-width="1.15" fill="none"/>
<path d="M321.40,7.50 L325.20,11.30 M321.40,11.30 L325.20,7.50" stroke="#ff0000" stroke-width="1.15" fill="none"/>
<circle cx="26.40" cy="122.80" r="2.05" fill="none" stroke="#ff00ff" stroke-width="1"/>
<circle cx="31.30" cy="128.40" r="2.05" fill="none" stroke="#ff00ff" stroke-width="1"/>
<circle cx="36.50" cy="134.25" r="2.05" fill="none" stroke="#ff00ff" stroke-width="1"/>
<circle cx="41.70" cy="139.90" r="2.05" fill="none" stroke="#ff00ff" stroke-width="1"/>
<circle cx="46.90" cy="145.10" r="2.05" fill="none" stroke="#ff00ff" stroke-width="1"/>
<circle cx="56.30" cy="155.50" r="2.05" fill="none" stroke="#ff00ff" stroke-width="1"/>
<circle cx="65.70" cy="164.00" r="2.05" fill="none" stroke="#ff00ff" stroke-width="1"/>
<circle cx="75.00" cy="171.50" r="2.05" fill="none" stroke="#ff00ff" stroke-width="1"/>
<circle cx="84.20" cy="178.75" r="2.05" fill="none" stroke="#ff00ff" stroke-width="1"/>
<circle cx="93.80" cy="185.00" r="2.05" fill="none" stroke="#ff00ff" stroke-width="1"/>
<circle cx="103.10" cy="190.00" r="2.05" fill="none" stroke="#ff00ff" stroke-width="1"/>
<circle cx="112.80" cy="193.80" r="2.05" fill="none" stroke="#ff00ff" stroke-width="1"/>
<circle cx="121.80" cy="196.80" r="2.05" fill="none" stroke="#ff00ff" stroke-width="1"/>
<circle cx="125.70" cy="198.00" r="2.05" fill="none" stroke="#ff00ff" stroke-width="1"/>
<circle cx="131.10" cy="199.20" r="2.05" fill="none" stroke="#ff00ff" stroke-width="1"/>
<circle cx="135.50" cy="200.40" r="2.05" fill="none" stroke="#ff00ff" stroke-width="1"/>
<circle cx="139.60" cy="201.10" r="2.05" fill="none" stroke="#ff00ff" stroke-width="1"/>
<circle cx="144.50" cy="201.90" r="2.05" fill="none" stroke="#ff00ff" stroke-width="1"/>
<circle cx="148.90" cy="202.40" r="2.05" fill="none" stroke="#ff00ff" stroke-width="1"/>
<circle cx="153.00" cy="202.90" r="2.05" fill="none" stroke="#ff00ff" stroke-width="1"/>
<circle cx="157.60" cy="203.30" r="2.05" fill="none" stroke="#ff00ff" stroke-width="1"/>
<circle cx="161.10" cy="203.64" r="2.05" fill="none" stroke="#ff00ff" stroke-width="1"/>
<circle cx="164.70" cy="203.99" r="2.05" fill="none" stroke="#ff00ff" stroke-width="1"/>
<circle cx="168.30" cy="204.34" r="2.05" fill="none" stroke="#ff00ff" stroke-width="1"/>
<circle cx="171.90" cy="204.59" r="2.05" fill="none" stroke="#ff00ff" stroke-width="1"/>
<circle cx="175.50" cy="204.78" r="2.05" fill="none" stroke="#ff00ff" stroke-width="1"/>
<circle cx="179.10" cy="204.95" r="2.05" fill="none" stroke="#ff00ff" stroke-width="1"/>
<circle cx="182.70" cy="205.13" r="2.05" fill="none" stroke="#ff00ff" stroke-width="1"/>
<circle cx="186.30" cy="205.31" r="2.05" fill="none" stroke="#ff00ff" stroke-width="1"/>
<circle cx="189.90" cy="205.50" r="2.05" fill="none" stroke="#ff00ff" stroke-width="1"/>
<circle cx="193.50" cy="205.58" r="2.05" fill="none" stroke="#ff00ff" stroke-width="1"/>
<circle cx="197.10" cy="205.67" r="2.05" fill="none" stroke="#ff00ff" stroke-width="1"/>
<circle cx="200.70" cy="205.75" r="2.05" fill="none" stroke="#ff00ff" stroke-width="1"/>
<circle cx="204.30" cy="205.83" r="2.05" fill="none" stroke="#ff00ff" stroke-width="1"/>
<circle cx="207.90" cy="205.92" r="2.05" fill="none" stroke="#ff00ff" stroke-width="1"/>
<circle cx="211.50" cy="206.00" r="2.05" fill="none" stroke="#ff00ff" stroke-width="1"/>
<circle cx="215.10" cy="206.09" r="2.05" fill="none" stroke="#ff00ff" stroke-width="1"/>
<circle cx="218.70" cy="206.17" r="2.05" fill="none" stroke="#ff00ff" stroke-width="1"/>
<circle cx="222.38" cy="206.22" r="2.05" fill="none" stroke="#ff00ff" stroke-width="1"/>
<circle cx="226.16" cy="206.24" r="2.05" fill="none" stroke="#ff00ff" stroke-width="1"/>
<circle cx="230.06" cy="206.27" r="2.05" fill="none" stroke="#ff00ff" stroke-width="1"/>
<circle cx="234.07" cy="206.29" r="2.05" fill="none" stroke="#ff00ff" stroke-width="1"/>
<circle cx="238.20" cy="206.32" r="2.05" fill="none" stroke="#ff00ff" stroke-width="1"/>
<circle cx="242.44" cy="206.35" r="2.05" fill="none" stroke="#ff00ff" stroke-width="1"/>
<circle cx="246.81" cy="206.38" r="2.05" fill="none" stroke="#ff00ff" stroke-width="1"/>
<circle cx="251.31" cy="206.40" r="2.05" fill="none" stroke="#ff00ff" stroke-width="1"/>
<circle cx="255.94" cy="206.40" r="2.05" fill="none" stroke="#ff00ff" stroke-width="1"/>
<circle cx="260.70" cy="206.40" r="2.05" fill="none" stroke="#ff00ff" stroke-width="1"/>
<circle cx="265.60" cy="206.40" r="2.05" fill="none" stroke="#ff00ff" stroke-width="1"/>
<circle cx="270.64" cy="206.40" r="2.05" fill="none" stroke="#ff00ff" stroke-width="1"/>
<circle cx="275.84" cy="206.40" r="2.05" fill="none" stroke="#ff00ff" stroke-width="1"/>
<circle cx="281.18" cy="206.40" r="2.05" fill="none" stroke="#ff00ff" stroke-width="1"/>
<circle cx="286.68" cy="206.40" r="2.05" fill="none" stroke="#ff00ff" stroke-width="1"/>
<circle cx="292.33" cy="206.40" r="2.05" fill="none" stroke="#ff00ff" stroke-width="1"/>
<circle cx="298.16" cy="206.40" r="2.05" fill="none" stroke="#ff00ff" stroke-width="1"/>
<circle cx="304.06" cy="206.40" r="2.05" fill="none" stroke="#ff00ff" stroke-width="1"/>
<circle cx="309.96" cy="206.40" r="2.05" fill="none" stroke="#ff00ff" stroke-width="1"/>
<circle cx="315.86" cy="206.40" r="2.05" fill="none" stroke="#ff00ff" stroke-width="1"/>
<circle cx="321.76" cy="206.40" r="2.05" fill="none" stroke="#ff00ff" stroke-width="1"/>
<rect x="24.60" y="121.00" width="3.60" height="3.60" fill="none" stroke="#000000" stroke-width="0.95"/>
<rect x="25.70" y="126.20" width="3.60" height="3.60" fill="none" stroke="#000000" stroke-width="0.95"/>
<rect x="28.00" y="132.45" width="3.60" height="3.60" fill="none" stroke="#000000" stroke-width="0.95"/>
<rect x="30.50" y="138.10" width="3.60" height="3.60" fill="none" stroke="#000000" stroke-width="0.95"/>
<rect x="32.20" y="143.90" width="3.60" height="3.60" fill="none" stroke="#000000" stroke-width="0.95"/>
<rect x="41.40" y="165.50" width="3.60" height="3.60" fill="none" stroke="#000000" stroke-width="0.95"/>
<rect x="50.70" y="183.20" width="3.60" height="3.60" fill="none" stroke="#000000" stroke-width="0.95"/>
<rect x="59.70" y="196.30" width="3.60" height="3.60" fill="none" stroke="#000000" stroke-width="0.95"/>
<rect x="68.80" y="206.70" width="3.60" height="3.60" fill="none" stroke="#000000" stroke-width="0.95"/>
<rect x="77.40" y="213.40" width="3.60" height="3.60" fill="none" stroke="#000000" stroke-width="0.95"/>
<rect x="86.50" y="219.20" width="3.60" height="3.60" fill="none" stroke="#000000" stroke-width="0.95"/>
<rect x="94.95" y="222.90" width="3.60" height="3.60" fill="none" stroke="#000000" stroke-width="0.95"/>
<rect x="104.30" y="225.20" width="3.60" height="3.60" fill="none" stroke="#000000" stroke-width="0.95"/>
<rect x="108.40" y="225.80" width="3.60" height="3.60" fill="none" stroke="#000000" stroke-width="0.95"/>
<rect x="111.90" y="226.40" width="3.60" height="3.60" fill="none" stroke="#000000" stroke-width="0.95"/>
<rect x="116.00" y="227.00" width="3.60" height="3.60" fill="none" stroke="#000000" stroke-width="0.95"/>
<rect x="119.50" y="227.50" width="3.60" height="3.60" fill="none" stroke="#000000" stroke-width="0.95"/>
<rect x="123.30" y="228.00" width="3.60" height="3.60" fill="none" stroke="#000000" stroke-width="0.95"/>
<rect x="127.10" y="228.50" width="3.60" height="3.60" fill="none" stroke="#000000" stroke-width="0.95"/>
<rect x="130.60" y="228.80" width="3.60" height="3.60" fill="none" stroke="#000000" stroke-width="0.95"/>
<rect x="134.70" y="229.10" width="3.60" height="3.60" fill="none" stroke="#000000" stroke-width="0.95"/>
<rect x="138.20" y="229.30" width="3.60" height="3.60" fill="none" stroke="#000000" stroke-width="0.95"/>
<rect x="141.70" y="229.60" width="3.60" height="3.60" fill="none" stroke="#000000" stroke-width="0.95"/>
<rect x="145.80" y="229.90" width="3.60" height="3.60" fill="none" stroke="#000000" stroke-width="0.95"/>
<rect x="149.30" y="230.00" width="3.60" height="3.60" fill="none" stroke="#000000" stroke-width="0.95"/>
<rect x="153.00" y="230.20" width="3.60" height="3.60" fill="none" stroke="#000000" stroke-width="0.95"/>
<rect x="156.90" y="230.30" width="3.60" height="3.60" fill="none" stroke="#000000" stroke-width="0.95"/>
<rect x="160.40" y="230.40" width="3.60" height="3.60" fill="none" stroke="#000000" stroke-width="0.95"/>
<rect x="164.20" y="230.50" width="3.60" height="3.60" fill="none" stroke="#000000" stroke-width="0.95"/>
<rect x="168.00" y="230.60" width="3.60" height="3.60" fill="none" stroke="#000000" stroke-width="0.95"/>
<rect x="171.50" y="230.70" width="3.60" height="3.60" fill="none" stroke="#000000" stroke-width="0.95"/>
<rect x="175.20" y="230.76" width="3.60" height="3.60" fill="none" stroke="#000000" stroke-width="0.95"/>
<rect x="178.90" y="230.81" width="3.60" height="3.60" fill="none" stroke="#000000" stroke-width="0.95"/>
<rect x="182.60" y="230.87" width="3.60" height="3.60" fill="none" stroke="#000000" stroke-width="0.95"/>
<rect x="186.30" y="230.92" width="3.60" height="3.60" fill="none" stroke="#000000" stroke-width="0.95"/>
<rect x="190.00" y="230.98" width="3.60" height="3.60" fill="none" stroke="#000000" stroke-width="0.95"/>
<rect x="193.70" y="231.03" width="3.60" height="3.60" fill="none" stroke="#000000" stroke-width="0.95"/>
<rect x="197.40" y="231.09" width="3.60" height="3.60" fill="none" stroke="#000000" stroke-width="0.95"/>
<rect x="201.10" y="231.12" width="3.60" height="3.60" fill="none" stroke="#000000" stroke-width="0.95"/>
<rect x="204.80" y="231.14" width="3.60" height="3.60" fill="none" stroke="#000000" stroke-width="0.95"/>
<rect x="208.50" y="231.16" width="3.60" height="3.60" fill="none" stroke="#000000" stroke-width="0.95"/>
<rect x="212.20" y="231.18" width="3.60" height="3.60" fill="none" stroke="#000000" stroke-width="0.95"/>
<rect x="215.90" y="231.20" width="3.60" height="3.60" fill="none" stroke="#000000" stroke-width="0.95"/>
<rect x="219.60" y="231.23" width="3.60" height="3.60" fill="none" stroke="#000000" stroke-width="0.95"/>
<rect x="223.30" y="231.25" width="3.60" height="3.60" fill="none" stroke="#000000" stroke-width="0.95"/>
<rect x="227.00" y="231.27" width="3.60" height="3.60" fill="none" stroke="#000000" stroke-width="0.95"/>
<rect x="230.70" y="231.29" width="3.60" height="3.60" fill="none" stroke="#000000" stroke-width="0.95"/>
<rect x="236.50" y="231.30" width="3.60" height="3.60" fill="none" stroke="#000000" stroke-width="0.95"/>
<rect x="242.30" y="231.30" width="3.60" height="3.60" fill="none" stroke="#000000" stroke-width="0.95"/>
<rect x="248.10" y="231.30" width="3.60" height="3.60" fill="none" stroke="#000000" stroke-width="0.95"/>
<rect x="253.90" y="231.30" width="3.60" height="3.60" fill="none" stroke="#000000" stroke-width="0.95"/>
<rect x="259.70" y="231.30" width="3.60" height="3.60" fill="none" stroke="#000000" stroke-width="0.95"/>
<rect x="265.50" y="231.30" width="3.60" height="3.60" fill="none" stroke="#000000" stroke-width="0.95"/>
<rect x="271.30" y="231.30" width="3.60" height="3.60" fill="none" stroke="#000000" stroke-width="0.95"/>
<rect x="277.10" y="231.30" width="3.60" height="3.60" fill="none" stroke="#000000" stroke-width="0.95"/>
<rect x="282.90" y="231.30" width="3.60" height="3.60" fill="none" stroke="#000000" stroke-width="0.95"/>
<rect x="288.70" y="231.30" width="3.60" height="3.60" fill="none" stroke="#000000" stroke-width="0.95"/>
<rect x="294.50" y="231.30" width="3.60" height="3.60" fill="none" stroke="#000000" stroke-width="0.95"/>
<rect x="300.30" y="231.30" width="3.60" height="3.60" fill="none" stroke="#000000" stroke-width="0.95"/>
<rect x="306.10" y="231.30" width="3.60" height="3.60" fill="none" stroke="#000000" stroke-width="0.95"/>
<rect x="311.90" y="231.30" width="3.60" height="3.60" fill="none" stroke="#000000" stroke-width="0.95"/>
<rect x="317.70" y="231.30" width="3.60" height="3.60" fill="none" stroke="#000000" stroke-width="0.95"/>
<rect x="323.50" y="231.30" width="3.60" height="3.60" fill="none" stroke="#000000" stroke-width="0.95"/>
<polygon points="376.60,121.00 382.60,121.00 379.60,126.40" fill="none" stroke="#ffff00" stroke-width="0.9"/>
<polygon points="380.10,104.30 386.10,104.30 383.10,109.70" fill="none" stroke="#ffff00" stroke-width="0.9"/>
<polygon points="382.50,98.20 388.50,98.20 385.50,103.60" fill="none" stroke="#ffff00" stroke-width="0.9"/>
<polygon points="385.00,93.30 391.00,93.30 388.00,98.70" fill="none" stroke="#ffff00" stroke-width="0.9"/>
<polygon points="389.10,77.70 395.10,77.70 392.10,83.10" fill="none" stroke="#ffff00" stroke-width="0.9"/>
<polygon points="394.60,60.40 400.60,60.40 397.60,65.80" fill="none" stroke="#ffff00" stroke-width="0.9"/>
<polygon points="400.10,46.50 406.10,46.50 403.10,51.90" fill="none" stroke="#ffff00" stroke-width="0.9"/>
<polygon points="406.40,34.70 412.40,34.70 409.40,40.10" fill="none" stroke="#ffff00" stroke-width="0.9"/>
<polygon points="410.50,28.00 416.50,28.00 413.50,33.40" fill="none" stroke="#ffff00" stroke-width="0.9"/>
<polygon points="415.30,22.60 421.30,22.60 418.30,28.00" fill="none" stroke="#ffff00" stroke-width="0.9"/>
<polygon points="419.50,18.40 425.50,18.40 422.50,23.80" fill="none" stroke="#ffff00" stroke-width="0.9"/>
<polygon points="423.70,15.30 429.70,15.30 426.70,20.70" fill="none" stroke="#ffff00" stroke-width="0.9"/>
<polygon points="427.80,12.40 433.80,12.40 430.80,17.80" fill="none" stroke="#ffff00" stroke-width="0.9"/>
<polygon points="432.40,10.10 438.40,10.10 435.40,15.50" fill="none" stroke="#ffff00" stroke-width="0.9"/>
<polygon points="436.60,8.00 442.60,8.00 439.60,13.40" fill="none" stroke="#ffff00" stroke-width="0.9"/>
<polygon points="440.75,6.50 446.75,6.50 443.75,11.90" fill="none" stroke="#ffff00" stroke-width="0.9"/>
<polygon points="444.90,5.50 450.90,5.50 447.90,10.90" fill="none" stroke="#ffff00" stroke-width="0.9"/>
<polygon points="449.50,4.90 455.50,4.90 452.50,10.30" fill="none" stroke="#ffff00" stroke-width="0.9"/>
<polygon points="453.90,4.50 459.90,4.50 456.90,9.90" fill="none" stroke="#ffff00" stroke-width="0.9"/>
<polygon points="458.50,4.25 464.50,4.25 461.50,9.65" fill="none" stroke="#ffff00" stroke-width="0.9"/>
<polygon points="463.50,4.25 469.50,4.25 466.50,9.65" fill="none" stroke="#ffff00" stroke-width="0.9"/>
<polygon points="469.00,4.25 475.00,4.25 472.00,9.65" fill="none" stroke="#ffff00" stroke-width="0.9"/>
<polygon points="475.00,4.25 481.00,4.25 478.00,9.65" fill="none" stroke="#ffff00" stroke-width="0.9"/>
<polygon points="482.00,4.25 488.00,4.25 485.00,9.65" fill="none" stroke="#ffff00" stroke-width="0.9"/>
<polygon points="490.00,4.25 496.00,4.25 493.00,9.65" fill="none" stroke="#ffff00" stroke-width="0.9"/>
<polygon points="499.00,4.25 505.00,4.25 502.00,9.65" fill="none" stroke="#ffff00" stroke-width="0.9"/>
<polygon points="509.00,4.25 515.00,4.25 512.00,9.65" fill="none" stroke="#ffff00" stroke-width="0.9"/>
<polygon points="520.00,4.25 526.00,4.25 523.00,9.65" fill="none" stroke="#ffff00" stroke-width="0.9"/>
<polygon points="532.00,4.25 538.00,4.25 535.00,9.65" fill="none" stroke="#ffff00" stroke-width="0.9"/>
<polygon points="545.00,4.25 551.00,4.25 548.00,9.65" fill="none" stroke="#ffff00" stroke-width="0.9"/>
<polygon points="559.00,4.25 565.00,4.25 562.00,9.65" fill="none" stroke="#ffff00" stroke-width="0.9"/>
<polygon points="574.00,4.25 580.00,4.25 577.00,9.65" fill="none" stroke="#ffff00" stroke-width="0.9"/>
<polygon points="590.00,4.25 596.00,4.25 593.00,9.65" fill="none" stroke="#ffff00" stroke-width="0.9"/>
<polygon points="607.00,4.25 613.00,4.25 610.00,9.65" fill="none" stroke="#ffff00" stroke-width="0.9"/>
<polygon points="625.00,4.25 631.00,4.25 628.00,9.65" fill="none" stroke="#ffff00" stroke-width="0.9"/>
<polygon points="644.00,4.25 650.00,4.25 647.00,9.65" fill="none" stroke="#ffff00" stroke-width="0.9"/>
<polygon points="662.00,4.25 668.00,4.25 665.00,9.65" fill="none" stroke="#ffff00" stroke-width="0.9"/>
<circle cx="379.60" cy="122.80" r="1.9" fill="none" stroke="#0000ff" stroke-width="1.25"/>
<circle cx="381.10" cy="116.80" r="1.9" fill="none" stroke="#0000ff" stroke-width="1.25"/>
<circle cx="384.00" cy="110.90" r="1.9" fill="none" stroke="#0000ff" stroke-width="1.25"/>
<circle cx="386.40" cy="105.90" r="1.9" fill="none" stroke="#0000ff" stroke-width="1.25"/>
<circle cx="388.80" cy="99.90" r="1.9" fill="none" stroke="#0000ff" stroke-width="1.25"/>
<circle cx="398.20" cy="78.80" r="1.9" fill="none" stroke="#0000ff" stroke-width="1.25"/>
<circle cx="407.50" cy="60.60" r="1.9" fill="none" stroke="#0000ff" stroke-width="1.25"/>
<circle cx="417.30" cy="45.40" r="1.9" fill="none" stroke="#0000ff" stroke-width="1.25"/>
<circle cx="426.00" cy="32.90" r="1.9" fill="none" stroke="#0000ff" stroke-width="1.25"/>
<circle cx="431.70" cy="26.70" r="1.9" fill="none" stroke="#0000ff" stroke-width="1.25"/>
<circle cx="436.90" cy="21.70" r="1.9" fill="none" stroke="#0000ff" stroke-width="1.25"/>
<circle cx="442.00" cy="18.20" r="1.9" fill="none" stroke="#0000ff" stroke-width="1.25"/>
<circle cx="447.40" cy="15.00" r="1.9" fill="none" stroke="#0000ff" stroke-width="1.25"/>
<circle cx="452.50" cy="12.50" r="1.9" fill="none" stroke="#0000ff" stroke-width="1.25"/>
<circle cx="457.80" cy="10.10" r="1.9" fill="none" stroke="#0000ff" stroke-width="1.25"/>
<circle cx="463.00" cy="8.85" r="1.9" fill="none" stroke="#0000ff" stroke-width="1.25"/>
<circle cx="468.20" cy="7.90" r="1.9" fill="none" stroke="#0000ff" stroke-width="1.25"/>
<circle cx="473.30" cy="7.30" r="1.9" fill="none" stroke="#0000ff" stroke-width="1.25"/>
<circle cx="478.50" cy="6.90" r="1.9" fill="none" stroke="#0000ff" stroke-width="1.25"/>
<circle cx="484.30" cy="6.60" r="1.9" fill="none" stroke="#0000ff" stroke-width="1.25"/>
<circle cx="490.20" cy="6.30" r="1.9" fill="none" stroke="#0000ff" stroke-width="1.25"/>
<circle cx="495.20" cy="6.20" r="1.9" fill="none" stroke="#0000ff" stroke-width="1.25"/>
<circle cx="502.20" cy="6.10" r="1.9" fill="none" stroke="#0000ff" stroke-width="1.25"/>
<circle cx="508.00" cy="6.05" r="1.9" fill="none" stroke="#0000ff" stroke-width="1.25"/>
<circle cx="513.30" cy="6.00" r="1.9" fill="none" stroke="#0000ff" stroke-width="1.25"/>
<circle cx="518.50" cy="6.00" r="1.9" fill="none" stroke="#0000ff" stroke-width="1.25"/>
<circle cx="524.20" cy="6.00" r="1.9" fill="none" stroke="#0000ff" stroke-width="1.25"/>
<circle cx="529.60" cy="6.00" r="1.9" fill="none" stroke="#0000ff" stroke-width="1.25"/>
<circle cx="534.90" cy="6.00" r="1.9" fill="none" stroke="#0000ff" stroke-width="1.25"/>
<circle cx="540.70" cy="6.00" r="1.9" fill="none" stroke="#0000ff" stroke-width="1.25"/>
<circle cx="546.50" cy="6.00" r="1.9" fill="none" stroke="#0000ff" stroke-width="1.25"/>
<circle cx="553.00" cy="6.00" r="1.9" fill="none" stroke="#0000ff" stroke-width="1.25"/>
<circle cx="561.10" cy="6.00" r="1.9" fill="none" stroke="#0000ff" stroke-width="1.25"/>
<circle cx="571.00" cy="6.00" r="1.9" fill="none" stroke="#0000ff" stroke-width="1.25"/>
<circle cx="581.50" cy="6.00" r="1.9" fill="none" stroke="#0000ff" stroke-width="1.25"/>
<circle cx="590.90" cy="6.00" r="1.9" fill="none" stroke="#0000ff" stroke-width="1.25"/>
<circle cx="600.20" cy="6.00" r="1.9" fill="none" stroke="#0000ff" stroke-width="1.25"/>
<circle cx="610.20" cy="6.00" r="1.9" fill="none" stroke="#0000ff" stroke-width="1.25"/>
<circle cx="619.60" cy="6.00" r="1.9" fill="none" stroke="#0000ff" stroke-width="1.25"/>
<circle cx="628.30" cy="6.00" r="1.9" fill="none" stroke="#0000ff" stroke-width="1.25"/>
<circle cx="637.50" cy="6.00" r="1.9" fill="none" stroke="#0000ff" stroke-width="1.25"/>
<circle cx="647.20" cy="6.00" r="1.9" fill="none" stroke="#0000ff" stroke-width="1.25"/>
<circle cx="656.40" cy="6.00" r="1.9" fill="none" stroke="#0000ff" stroke-width="1.25"/>
<circle cx="665.60" cy="6.00" r="1.9" fill="none" stroke="#0000ff" stroke-width="1.25"/>
<circle cx="675.30" cy="6.00" r="1.9" fill="none" stroke="#0000ff" stroke-width="1.25"/>
<path d="M377.70,120.90 L381.50,124.70 M377.70,124.70 L381.50,120.90" stroke="#ff0000" stroke-width="1.15" fill="none"/>
<path d="M381.30,115.10 L385.10,118.90 M381.30,118.90 L385.10,115.10" stroke="#ff0000" stroke-width="1.15" fill="none"/>
<path d="M386.30,109.00 L390.10,112.80 M386.30,112.80 L390.10,109.00" stroke="#ff0000" stroke-width="1.15" fill="none"/>
<path d="M390.80,104.00 L394.60,107.80 M390.80,107.80 L394.60,104.00" stroke="#ff0000" stroke-width="1.15" fill="none"/>
<path d="M395.00,98.20 L398.80,102.00 M395.00,102.00 L398.80,98.20" stroke="#ff0000" stroke-width="1.15" fill="none"/>
<path d="M404.90,86.10 L408.70,89.90 M404.90,89.90 L408.70,86.10" stroke="#ff0000" stroke-width="1.15" fill="none"/>
<path d="M414.20,75.30 L418.00,79.10 M414.20,79.10 L418.00,75.30" stroke="#ff0000" stroke-width="1.15" fill="none"/>
<path d="M423.10,65.30 L426.90,69.10 M423.10,69.10 L426.90,65.30" stroke="#ff0000" stroke-width="1.15" fill="none"/>
<path d="M432.40,54.90 L436.20,58.70 M432.40,58.70 L436.20,54.90" stroke="#ff0000" stroke-width="1.15" fill="none"/>
<path d="M441.85,46.00 L445.65,49.80 M441.85,49.80 L445.65,46.00" stroke="#ff0000" stroke-width="1.15" fill="none"/>
<path d="M451.10,37.50 L454.90,41.30 M451.10,41.30 L454.90,37.50" stroke="#ff0000" stroke-width="1.15" fill="none"/>
<path d="M460.60,30.10 L464.40,33.90 M460.60,33.90 L464.40,30.10" stroke="#ff0000" stroke-width="1.15" fill="none"/>
<path d="M470.30,23.10 L474.10,26.90 M470.30,26.90 L474.10,23.10" stroke="#ff0000" stroke-width="1.15" fill="none"/>
<path d="M477.70,18.90 L481.50,22.70 M477.70,22.70 L481.50,18.90" stroke="#ff0000" stroke-width="1.15" fill="none"/>
<path d="M485.60,14.80 L489.40,18.60 M485.60,18.60 L489.40,14.80" stroke="#ff0000" stroke-width="1.15" fill="none"/>
<path d="M493.30,11.50 L497.10,15.30 M493.30,15.30 L497.10,11.50" stroke="#ff0000" stroke-width="1.15" fill="none"/>
<path d="M500.30,9.20 L504.10,13.00 M500.30,13.00 L504.10,9.20" stroke="#ff0000" stroke-width="1.15" fill="none"/>
<path d="M505.60,8.00 L509.40,11.80 M505.60,11.80 L509.40,8.00" stroke="#ff0000" stroke-width="1.15" fill="none"/>
<path d="M510.80,6.90 L514.60,10.70 M510.80,10.70 L514.60,6.90" stroke="#ff0000" stroke-width="1.15" fill="none"/>
<path d="M515.50,6.20 L519.30,10.00 M515.50,10.00 L519.30,6.20" stroke="#ff0000" stroke-width="1.15" fill="none"/>
<path d="M520.20,5.50 L524.00,9.30 M520.20,9.30 L524.00,5.50" stroke="#ff0000" stroke-width="1.15" fill="none"/>
<path d="M524.80,5.10 L528.60,8.90 M524.80,8.90 L528.60,5.10" stroke="#ff0000" stroke-width="1.15" fill="none"/>
<path d="M529.50,4.80 L533.30,8.60 M529.50,8.60 L533.30,4.80" stroke="#ff0000" stroke-width="1.15" fill="none"/>
<path d="M534.20,4.60 L538.00,8.40 M534.20,8.40 L538.00,4.60" stroke="#ff0000" stroke-width="1.15" fill="none"/>
<path d="M538.80,4.50 L542.60,8.30 M538.80,8.30 L542.60,4.50" stroke="#ff0000" stroke-width="1.15" fill="none"/>
<path d="M543.50,4.40 L547.30,8.20 M543.50,8.20 L547.30,4.40" stroke="#ff0000" stroke-width="1.15" fill="none"/>
<path d="M548.20,4.35 L552.00,8.15 M548.20,8.15 L552.00,4.35" stroke="#ff0000" stroke-width="1.15" fill="none"/>
<path d="M553.10,4.30 L556.90,8.10 M553.10,8.10 L556.90,4.30" stroke="#ff0000" stroke-width="1.15" fill="none"/>
<path d="M557.60,4.25 L561.40,8.05 M557.60,8.05 L561.40,4.25" stroke="#ff0000" stroke-width="1.15" fill="none"/>
<path d="M561.60,4.20 L565.40,8.00 M561.60,8.00 L565.40,4.20" stroke="#ff0000" stroke-width="1.15" fill="none"/>
<path d="M565.60,4.20 L569.40,8.00 M565.60,8.00 L569.40,4.20" stroke="#ff0000" stroke-width="1.15" fill="none"/>
<path d="M571.50,4.15 L575.30,7.95 M571.50,7.95 L575.30,4.15" stroke="#ff0000" stroke-width="1.15" fill="none"/>
<path d="M579.10,4.10 L582.90,7.90 M579.10,7.90 L582.90,4.10" stroke="#ff0000" stroke-width="1.15" fill="none"/>
<path d="M587.80,4.10 L591.60,7.90 M587.80,7.90 L591.60,4.10" stroke="#ff0000" stroke-width="1.15" fill="none"/>
<path d="M594.80,4.10 L598.60,7.90 M594.80,7.90 L598.60,4.10" stroke="#ff0000" stroke-width="1.15" fill="none"/>
<path d="M604.20,4.10 L608.00,7.90 M604.20,7.90 L608.00,4.10" stroke="#ff0000" stroke-width="1.15" fill="none"/>
<path d="M614.10,4.10 L617.90,7.90 M614.10,7.90 L617.90,4.10" stroke="#ff0000" stroke-width="1.15" fill="none"/>
<path d="M623.30,4.10 L627.10,7.90 M623.30,7.90 L627.10,4.10" stroke="#ff0000" stroke-width="1.15" fill="none"/>
<path d="M633.00,4.10 L636.80,7.90 M633.00,7.90 L636.80,4.10" stroke="#ff0000" stroke-width="1.15" fill="none"/>
<path d="M641.70,4.10 L645.50,7.90 M641.70,7.90 L645.50,4.10" stroke="#ff0000" stroke-width="1.15" fill="none"/>
<path d="M650.90,4.10 L654.70,7.90 M650.90,7.90 L654.70,4.10" stroke="#ff0000" stroke-width="1.15" fill="none"/>
<path d="M660.60,4.10 L664.40,7.90 M660.60,7.90 L664.40,4.10" stroke="#ff0000" stroke-width="1.15" fill="none"/>
<path d="M669.80,4.10 L673.60,7.90 M669.80,7.90 L673.60,4.10" stroke="#ff0000" stroke-width="1.15" fill="none"/>
<circle cx="379.60" cy="122.80" r="2.05" fill="none" stroke="#ff00ff" stroke-width="1"/>
<circle cx="386.30" cy="121.30" r="2.05" fill="none" stroke="#ff00ff" stroke-width="1"/>
<circle cx="392.70" cy="120.10" r="2.05" fill="none" stroke="#ff00ff" stroke-width="1"/>
<circle cx="400.00" cy="118.90" r="2.05" fill="none" stroke="#ff00ff" stroke-width="1"/>
<circle cx="406.60" cy="117.50" r="2.05" fill="none" stroke="#ff00ff" stroke-width="1"/>
<circle cx="415.70" cy="116.10" r="2.05" fill="none" stroke="#ff00ff" stroke-width="1"/>
<circle cx="425.60" cy="114.60" r="2.05" fill="none" stroke="#ff00ff" stroke-width="1"/>
<circle cx="435.00" cy="112.60" r="2.05" fill="none" stroke="#ff00ff" stroke-width="1"/>
<circle cx="444.10" cy="111.10" r="2.05" fill="none" stroke="#ff00ff" stroke-width="1"/>
<circle cx="453.30" cy="109.80" r="2.05" fill="none" stroke="#ff00ff" stroke-width="1"/>
<circle cx="462.60" cy="108.30" r="2.05" fill="none" stroke="#ff00ff" stroke-width="1"/>
<circle cx="472.10" cy="106.80" r="2.05" fill="none" stroke="#ff00ff" stroke-width="1"/>
<circle cx="481.50" cy="105.50" r="2.05" fill="none" stroke="#ff00ff" stroke-width="1"/>
<circle cx="491.20" cy="104.30" r="2.05" fill="none" stroke="#ff00ff" stroke-width="1"/>
<circle cx="500.60" cy="103.20" r="2.05" fill="none" stroke="#ff00ff" stroke-width="1"/>
<circle cx="510.10" cy="102.20" r="2.05" fill="none" stroke="#ff00ff" stroke-width="1"/>
<circle cx="519.50" cy="101.30" r="2.05" fill="none" stroke="#ff00ff" stroke-width="1"/>
<circle cx="528.80" cy="100.70" r="2.05" fill="none" stroke="#ff00ff" stroke-width="1"/>
<circle cx="538.10" cy="100.10" r="2.05" fill="none" stroke="#ff00ff" stroke-width="1"/>
<circle cx="547.50" cy="99.50" r="2.05" fill="none" stroke="#ff00ff" stroke-width="1"/>
<circle cx="556.80" cy="99.00" r="2.05" fill="none" stroke="#ff00ff" stroke-width="1"/>
<circle cx="566.30" cy="98.50" r="2.05" fill="none" stroke="#ff00ff" stroke-width="1"/>
<circle cx="575.90" cy="98.30" r="2.05" fill="none" stroke="#ff00ff" stroke-width="1"/>
<circle cx="585.50" cy="98.20" r="2.05" fill="none" stroke="#ff00ff" stroke-width="1"/>
<circle cx="593.80" cy="98.10" r="2.05" fill="none" stroke="#ff00ff" stroke-width="1"/>
<circle cx="598.30" cy="98.10" r="2.05" fill="none" stroke="#ff00ff" stroke-width="1"/>
<circle cx="603.40" cy="98.10" r="2.05" fill="none" stroke="#ff00ff" stroke-width="1"/>
<circle cx="608.40" cy="98.10" r="2.05" fill="none" stroke="#ff00ff" stroke-width="1"/>
<circle cx="613.50" cy="98.10" r="2.05" fill="none" stroke="#ff00ff" stroke-width="1"/>
<circle cx="618.40" cy="98.10" r="2.05" fill="none" stroke="#ff00ff" stroke-width="1"/>
<circle cx="623.30" cy="98.10" r="2.05" fill="none" stroke="#ff00ff" stroke-width="1"/>
<circle cx="628.10" cy="98.10" r="2.05" fill="none" stroke="#ff00ff" stroke-width="1"/>
<circle cx="633.00" cy="98.10" r="2.05" fill="none" stroke="#ff00ff" stroke-width="1"/>
<circle cx="637.90" cy="98.10" r="2.05" fill="none" stroke="#ff00ff" stroke-width="1"/>
<circle cx="642.70" cy="98.10" r="2.05" fill="none" stroke="#ff00ff" stroke-width="1"/>
<circle cx="647.60" cy="98.10" r="2.05" fill="none" stroke="#ff00ff" stroke-width="1"/>
<circle cx="652.50" cy="98.10" r="2.05" fill="none" stroke="#ff00ff" stroke-width="1"/>
<circle cx="657.30" cy="98.10" r="2.05" fill="none" stroke="#ff00ff" stroke-width="1"/>
<circle cx="662.20" cy="98.10" r="2.05" fill="none" stroke="#ff00ff" stroke-width="1"/>
<circle cx="666.80" cy="98.10" r="2.05" fill="none" stroke="#ff00ff" stroke-width="1"/>
<circle cx="670.40" cy="98.10" r="2.05" fill="none" stroke="#ff00ff" stroke-width="1"/>
<circle cx="674.00" cy="98.10" r="2.05" fill="none" stroke="#ff00ff" stroke-width="1"/>
<circle cx="677.70" cy="98.10" r="2.05" fill="none" stroke="#ff00ff" stroke-width="1"/>
<rect x="377.80" y="121.00" width="3.60" height="3.60" fill="none" stroke="#000000" stroke-width="0.95"/>
<rect x="383.80" y="126.50" width="3.60" height="3.60" fill="none" stroke="#000000" stroke-width="0.95"/>
<rect x="390.40" y="132.60" width="3.60" height="3.60" fill="none" stroke="#000000" stroke-width="0.95"/>
<rect x="396.80" y="138.20" width="3.60" height="3.60" fill="none" stroke="#000000" stroke-width="0.95"/>
<rect x="403.20" y="143.20" width="3.60" height="3.60" fill="none" stroke="#000000" stroke-width="0.95"/>
<rect x="412.90" y="151.50" width="3.60" height="3.60" fill="none" stroke="#000000" stroke-width="0.95"/>
<rect x="422.40" y="158.20" width="3.60" height="3.60" fill="none" stroke="#000000" stroke-width="0.95"/>
<rect x="431.50" y="164.90" width="3.60" height="3.60" fill="none" stroke="#000000" stroke-width="0.95"/>
<rect x="440.70" y="170.40" width="3.60" height="3.60" fill="none" stroke="#000000" stroke-width="0.95"/>
<rect x="450.40" y="175.50" width="3.60" height="3.60" fill="none" stroke="#000000" stroke-width="0.95"/>
<rect x="459.90" y="179.90" width="3.60" height="3.60" fill="none" stroke="#000000" stroke-width="0.95"/>
<rect x="469.20" y="183.60" width="3.60" height="3.60" fill="none" stroke="#000000" stroke-width="0.95"/>
<rect x="478.60" y="186.30" width="3.60" height="3.60" fill="none" stroke="#000000" stroke-width="0.95"/>
<rect x="483.40" y="187.80" width="3.60" height="3.60" fill="none" stroke="#000000" stroke-width="0.95"/>
<rect x="487.60" y="188.80" width="3.60" height="3.60" fill="none" stroke="#000000" stroke-width="0.95"/>
<rect x="492.20" y="189.90" width="3.60" height="3.60" fill="none" stroke="#000000" stroke-width="0.95"/>
<rect x="496.95" y="190.90" width="3.60" height="3.60" fill="none" stroke="#000000" stroke-width="0.95"/>
<rect x="501.50" y="191.50" width="3.60" height="3.60" fill="none" stroke="#000000" stroke-width="0.95"/>
<rect x="506.10" y="192.20" width="3.60" height="3.60" fill="none" stroke="#000000" stroke-width="0.95"/>
<rect x="510.90" y="192.60" width="3.60" height="3.60" fill="none" stroke="#000000" stroke-width="0.95"/>
<rect x="515.70" y="192.80" width="3.60" height="3.60" fill="none" stroke="#000000" stroke-width="0.95"/>
<rect x="520.30" y="193.20" width="3.60" height="3.60" fill="none" stroke="#000000" stroke-width="0.95"/>
<rect x="525.10" y="193.40" width="3.60" height="3.60" fill="none" stroke="#000000" stroke-width="0.95"/>
<rect x="529.70" y="193.60" width="3.60" height="3.60" fill="none" stroke="#000000" stroke-width="0.95"/>
<rect x="534.45" y="194.10" width="3.60" height="3.60" fill="none" stroke="#000000" stroke-width="0.95"/>
<rect x="539.00" y="194.40" width="3.60" height="3.60" fill="none" stroke="#000000" stroke-width="0.95"/>
<rect x="543.80" y="194.70" width="3.60" height="3.60" fill="none" stroke="#000000" stroke-width="0.95"/>
<rect x="548.40" y="194.90" width="3.60" height="3.60" fill="none" stroke="#000000" stroke-width="0.95"/>
<rect x="553.20" y="195.10" width="3.60" height="3.60" fill="none" stroke="#000000" stroke-width="0.95"/>
<rect x="557.80" y="195.20" width="3.60" height="3.60" fill="none" stroke="#000000" stroke-width="0.95"/>
<rect x="561.00" y="195.25" width="3.60" height="3.60" fill="none" stroke="#000000" stroke-width="0.95"/>
<rect x="564.00" y="195.29" width="3.60" height="3.60" fill="none" stroke="#000000" stroke-width="0.95"/>
<rect x="567.00" y="195.34" width="3.60" height="3.60" fill="none" stroke="#000000" stroke-width="0.95"/>
<rect x="570.00" y="195.38" width="3.60" height="3.60" fill="none" stroke="#000000" stroke-width="0.95"/>
<rect x="573.00" y="195.42" width="3.60" height="3.60" fill="none" stroke="#000000" stroke-width="0.95"/>
<rect x="576.00" y="195.47" width="3.60" height="3.60" fill="none" stroke="#000000" stroke-width="0.95"/>
<rect x="579.00" y="195.50" width="3.60" height="3.60" fill="none" stroke="#000000" stroke-width="0.95"/>
<rect x="582.00" y="195.52" width="3.60" height="3.60" fill="none" stroke="#000000" stroke-width="0.95"/>
<rect x="585.00" y="195.54" width="3.60" height="3.60" fill="none" stroke="#000000" stroke-width="0.95"/>
<rect x="588.00" y="195.55" width="3.60" height="3.60" fill="none" stroke="#000000" stroke-width="0.95"/>
<rect x="591.00" y="195.57" width="3.60" height="3.60" fill="none" stroke="#000000" stroke-width="0.95"/>
<rect x="594.00" y="195.59" width="3.60" height="3.60" fill="none" stroke="#000000" stroke-width="0.95"/>
<rect x="597.00" y="195.60" width="3.60" height="3.60" fill="none" stroke="#000000" stroke-width="0.95"/>
<rect x="600.00" y="195.62" width="3.60" height="3.60" fill="none" stroke="#000000" stroke-width="0.95"/>
<rect x="603.00" y="195.64" width="3.60" height="3.60" fill="none" stroke="#000000" stroke-width="0.95"/>
<rect x="606.00" y="195.65" width="3.60" height="3.60" fill="none" stroke="#000000" stroke-width="0.95"/>
<rect x="609.00" y="195.67" width="3.60" height="3.60" fill="none" stroke="#000000" stroke-width="0.95"/>
<rect x="612.00" y="195.69" width="3.60" height="3.60" fill="none" stroke="#000000" stroke-width="0.95"/>
<rect x="615.00" y="195.70" width="3.60" height="3.60" fill="none" stroke="#000000" stroke-width="0.95"/>
<rect x="620.60" y="195.71" width="3.60" height="3.60" fill="none" stroke="#000000" stroke-width="0.95"/>
<rect x="626.20" y="195.72" width="3.60" height="3.60" fill="none" stroke="#000000" stroke-width="0.95"/>
<rect x="631.80" y="195.73" width="3.60" height="3.60" fill="none" stroke="#000000" stroke-width="0.95"/>
<rect x="637.40" y="195.74" width="3.60" height="3.60" fill="none" stroke="#000000" stroke-width="0.95"/>
<rect x="643.00" y="195.75" width="3.60" height="3.60" fill="none" stroke="#000000" stroke-width="0.95"/>
<rect x="648.60" y="195.75" width="3.60" height="3.60" fill="none" stroke="#000000" stroke-width="0.95"/>
<rect x="654.20" y="195.76" width="3.60" height="3.60" fill="none" stroke="#000000" stroke-width="0.95"/>
<rect x="659.80" y="195.77" width="3.60" height="3.60" fill="none" stroke="#000000" stroke-width="0.95"/>
<rect x="665.40" y="195.78" width="3.60" height="3.60" fill="none" stroke="#000000" stroke-width="0.95"/>
<rect x="671.00" y="195.79" width="3.60" height="3.60" fill="none" stroke="#000000" stroke-width="0.95"/>
<rect x="676.60" y="195.80" width="3.60" height="3.60" fill="none" stroke="#000000" stroke-width="0.95"/>
<circle cx="26.3" cy="122.9" r="2.5" fill="#54102c" stroke="#3a0a1a" stroke-width="0.6"/>
<circle cx="379.4" cy="122.9" r="2.5" fill="#54102c" stroke="#3a0a1a" stroke-width="0.6"/>
<text transform="translate(26.40,253.7) scale(1,1.06)" text-anchor="middle" class="tk">0</text>
<text transform="translate(101.40,253.7) scale(1,1.06)" text-anchor="middle" class="tk">2</text>
<text transform="translate(176.40,253.7) scale(1,1.06)" text-anchor="middle" class="tk">4</text>
<text transform="translate(251.40,253.7) scale(1,1.06)" text-anchor="middle" class="tk">6</text>
<text transform="translate(326.40,253.7) scale(1,1.06)" text-anchor="middle" class="tk">8</text>
<text transform="translate(22.00,243.65) scale(1,1.06)" text-anchor="end" class="tk">0</text>
<text transform="translate(22.00,197.04) scale(1,1.06)" text-anchor="end" class="tk">0.2</text>
<text transform="translate(22.00,150.43) scale(1,1.06)" text-anchor="end" class="tk">0.4</text>
<text transform="translate(22.00,103.82) scale(1,1.06)" text-anchor="end" class="tk">0.6</text>
<text transform="translate(22.00,57.21) scale(1,1.06)" text-anchor="end" class="tk">0.8</text>
<text transform="translate(22.00,10.10) scale(1,1.06)" text-anchor="end" class="tk">1</text>
<text transform="translate(379.40,253.7) scale(1,1.06)" text-anchor="middle" class="tk">0</text>
<text transform="translate(454.40,253.7) scale(1,1.06)" text-anchor="middle" class="tk">2</text>
<text transform="translate(529.40,253.7) scale(1,1.06)" text-anchor="middle" class="tk">4</text>
<text transform="translate(604.40,253.7) scale(1,1.06)" text-anchor="middle" class="tk">6</text>
<text transform="translate(679.40,253.7) scale(1,1.06)" text-anchor="middle" class="tk">8</text>
<text transform="translate(375.00,243.65) scale(1,1.06)" text-anchor="end" class="tk">0</text>
<text transform="translate(375.00,197.04) scale(1,1.06)" text-anchor="end" class="tk">0.2</text>
<text transform="translate(375.00,150.43) scale(1,1.06)" text-anchor="end" class="tk">0.4</text>
<text transform="translate(375.00,103.82) scale(1,1.06)" text-anchor="end" class="tk">0.6</text>
<text transform="translate(375.00,57.21) scale(1,1.06)" text-anchor="end" class="tk">0.8</text>
<text transform="translate(375.00,10.10) scale(1,1.06)" text-anchor="end" class="tk">1</text>
<rect x="265.5" y="27.5" width="52" height="74.0" fill="#ffffff" stroke="#8c8c8c" stroke-width="1"/>
<line x1="268.7" y1="35.00" x2="289.3" y2="35.00" stroke="#ffff00" stroke-width="1"/>
<polygon points="276.00,33.20 282.00,33.20 279.00,38.60" fill="none" stroke="#ffff00" stroke-width="0.9"/>
<text x="291.0" y="36.70" class="lg">C<tspan class="sub" dy="3.3">p</tspan><tspan dy="-3.3">=2</tspan></text>
<line x1="268.7" y1="49.60" x2="289.3" y2="49.60" stroke="#0000ff" stroke-width="1" stroke-dasharray="6 2.6"/>
<circle cx="279.00" cy="49.60" r="1.9" fill="none" stroke="#0000ff" stroke-width="1.25"/>
<text x="291.0" y="51.30" class="lg">C<tspan class="sub" dy="3.3">p</tspan><tspan dy="-3.3">=4</tspan></text>
<line x1="268.7" y1="64.20" x2="289.3" y2="64.20" stroke="#ff0000" stroke-width="1" stroke-dasharray="1 1.1"/>
<path d="M277.10,62.30 L280.90,66.10 M277.10,66.10 L280.90,62.30" stroke="#ff0000" stroke-width="1.15" fill="none"/>
<text x="291.0" y="65.90" class="lg">C<tspan class="sub" dy="3.3">p</tspan><tspan dy="-3.3">=6</tspan></text>
<line x1="268.7" y1="78.80" x2="289.3" y2="78.80" stroke="#ff00ff" stroke-width="1"/>
<circle cx="279.00" cy="78.80" r="2.05" fill="none" stroke="#ff00ff" stroke-width="1"/>
<text x="291.0" y="80.50" class="lg">C<tspan class="sub" dy="3.3">p</tspan><tspan dy="-3.3">=8</tspan></text>
<line x1="268.7" y1="93.40" x2="289.3" y2="93.40" stroke="#000000" stroke-width="1" stroke-dasharray="6 2.6"/>
<rect x="277.20" y="91.60" width="3.60" height="3.60" fill="none" stroke="#000000" stroke-width="0.95"/>
<text x="291.0" y="95.10" class="lg">C<tspan class="sub" dy="3.3">p</tspan><tspan dy="-3.3">=10</tspan></text>
<rect x="593.5" y="15.5" width="76" height="74.3" fill="#ffffff" stroke="#8c8c8c" stroke-width="1"/>
<line x1="596.2" y1="23.55" x2="616.8" y2="23.55" stroke="#ffff00" stroke-width="1"/>
<polygon points="603.50,21.75 609.50,21.75 606.50,27.15" fill="none" stroke="#ffff00" stroke-width="0.9"/>
<text x="618.6" y="25.25" class="lg">C<tspan class="sub" dy="3.3">p</tspan><tspan dy="-3.3">=2</tspan><tspan>,S</tspan><tspan class="sub" dy="3.3">p</tspan><tspan dy="-3.3">=0.6</tspan></text>
<line x1="596.2" y1="38.25" x2="616.8" y2="38.25" stroke="#0000ff" stroke-width="1" stroke-dasharray="6 2.6"/>
<circle cx="606.50" cy="38.25" r="1.9" fill="none" stroke="#0000ff" stroke-width="1.25"/>
<text x="618.6" y="39.95" class="lg">C<tspan class="sub" dy="3.3">p</tspan><tspan dy="-3.3">=4</tspan><tspan>,S</tspan><tspan class="sub" dy="3.3">p</tspan><tspan dy="-3.3">=1.2</tspan></text>
<line x1="596.2" y1="52.95" x2="616.8" y2="52.95" stroke="#ff0000" stroke-width="1" stroke-dasharray="1 1.1"/>
<path d="M604.60,51.05 L608.40,54.85 M604.60,54.85 L608.40,51.05" stroke="#ff0000" stroke-width="1.15" fill="none"/>
<text x="618.6" y="54.65" class="lg">C<tspan class="sub" dy="3.3">p</tspan><tspan dy="-3.3">=6</tspan><tspan>,S</tspan><tspan class="sub" dy="3.3">p</tspan><tspan dy="-3.3">=1.8</tspan></text>
<line x1="596.2" y1="67.65" x2="616.8" y2="67.65" stroke="#ff00ff" stroke-width="1"/>
<circle cx="606.50" cy="67.65" r="2.05" fill="none" stroke="#ff00ff" stroke-width="1"/>
<text x="618.6" y="69.35" class="lg">C<tspan class="sub" dy="3.3">p</tspan><tspan dy="-3.3">=8</tspan><tspan>,S</tspan><tspan class="sub" dy="3.3">p</tspan><tspan dy="-3.3">=2.4</tspan></text>
<line x1="596.2" y1="82.35" x2="616.8" y2="82.35" stroke="#000000" stroke-width="1" stroke-dasharray="6 2.6"/>
<rect x="604.70" y="80.55" width="3.60" height="3.60" fill="none" stroke="#000000" stroke-width="0.95"/>
<text x="618.6" y="84.05" class="lg">C<tspan class="sub" dy="3.3">p</tspan><tspan dy="-3.3">=10</tspan><tspan>,S</tspan><tspan class="sub" dy="3.3">p</tspan><tspan dy="-3.3">=3</tspan></text>
<path d="M3.20,115.10 C3.90,113.90 5.50,115.00 7.60,114.00 L2.30,119.20 C3.80,118.10 5.30,119.70 6.60,118.60" fill="none" stroke="#4a4a4a" stroke-width="0.85" stroke-linejoin="round" stroke-linecap="round"/>
<path d="M355.40,114.50 C356.10,113.30 357.70,114.40 359.80,113.40 L354.50,118.60 C356.00,117.50 357.50,119.10 358.80,118.00" fill="none" stroke="#4a4a4a" stroke-width="0.85" stroke-linejoin="round" stroke-linecap="round"/>
<text x="176.4" y="267" text-anchor="middle" class="ax">t</text>
<text x="529.6" y="267" text-anchor="middle" class="ax">t</text>
<text x="176.6" y="283.35" text-anchor="middle" class="pl">(a)</text>
<text x="531.75" y="283.35" text-anchor="middle" class="pl">(b)</text>
</svg>
</body></html>
